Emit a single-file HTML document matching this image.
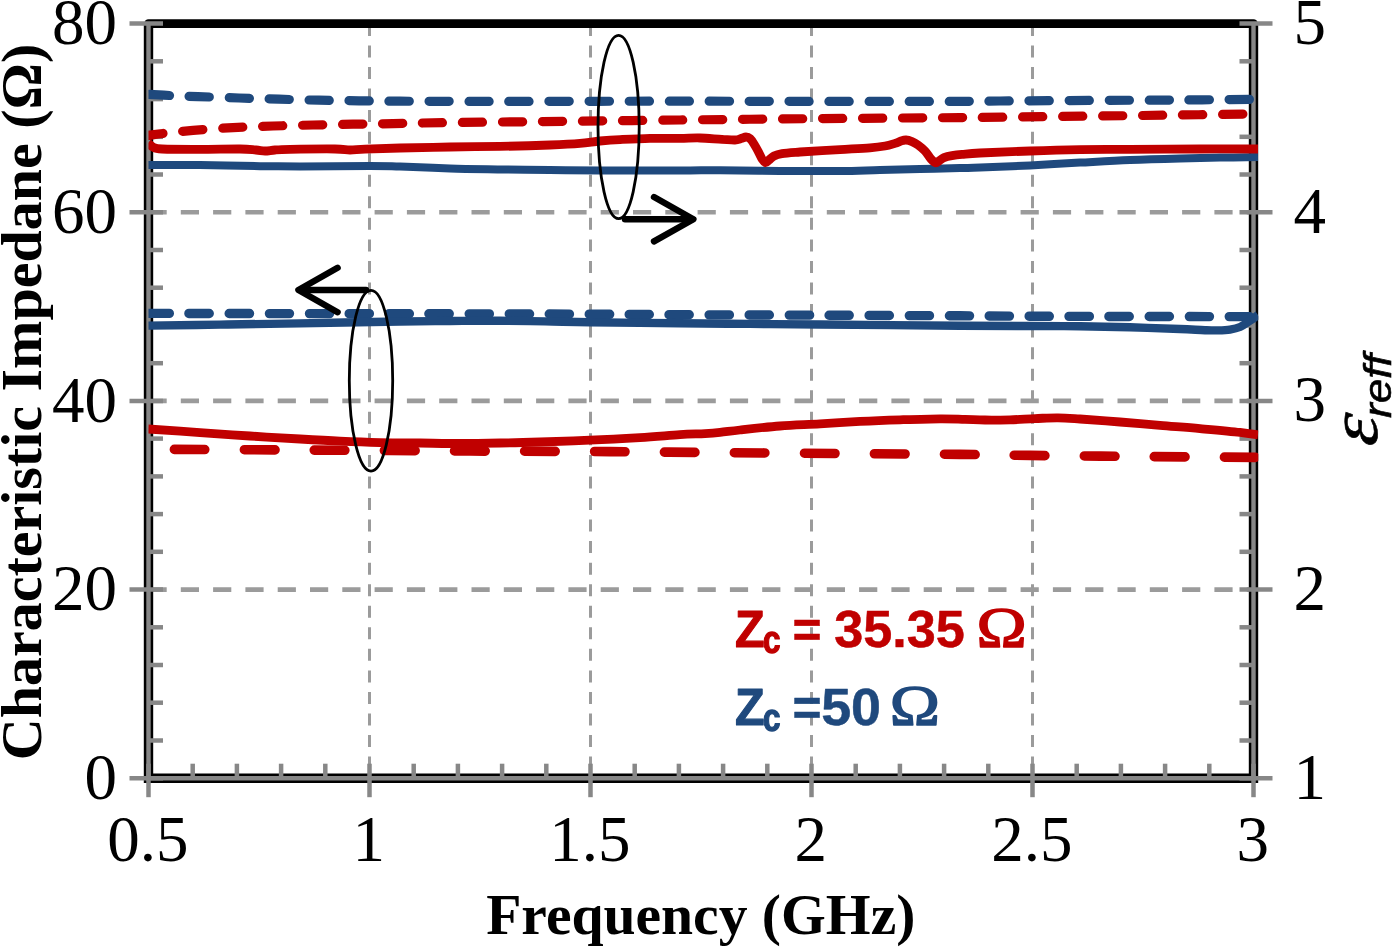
<!DOCTYPE html>
<html lang="en"><head><meta charset="utf-8"><title>Characteristic impedance chart</title>
<style>html,body{margin:0;padding:0;background:#fff;}body{width:1400px;height:948px;overflow:hidden;font-family:"Liberation Serif",serif;}svg{display:block;}</style></head>
<body>
<svg width="1400" height="948" viewBox="0 0 1400 948" style="will-change:transform">
<rect width="1400" height="948" fill="#fff"/>
<g fill="none" stroke="#9b9b9b">
<path d="M369.5 23.9 V778.2" stroke-width="3" stroke-dasharray="12 9.55"/>
<path d="M590.5 23.9 V778.2" stroke-width="3" stroke-dasharray="12 9.55"/>
<path d="M811.5 23.9 V778.2" stroke-width="3" stroke-dasharray="12 9.55"/>
<path d="M1032.5 23.9 V778.2" stroke-width="3" stroke-dasharray="12 9.55"/>
<path d="M148.5 212.3 H1253.5" stroke-width="4.6" stroke-dasharray="18.2 14.1"/>
<path d="M148.5 400.9 H1253.5" stroke-width="4.6" stroke-dasharray="18.2 14.1"/>
<path d="M148.5 589.6 H1253.5" stroke-width="4.6" stroke-dasharray="18.2 14.1"/>
</g>
<g fill="none" stroke-linecap="butt">
<path d="M148.5 23.6 H1253.5" stroke="#000" stroke-width="8.6" stroke-linecap="round"/>
<path d="M148.5 23.6 V778.2 H1253.5 V23.6" stroke="#000" stroke-width="9.4" stroke-linejoin="miter"/>
<path d="M148.5 24.6 V778.2 H1253.5 V24.6" stroke="#878787" stroke-width="4.4" stroke-linejoin="miter"/>
</g>
<g stroke="#878787" stroke-width="4.5" fill="none">
<path d="M129.5 23.6 H163.0"/>
<path d="M1239.5 23.6 H1272.5"/>
<path d="M148.5 61.3 H163.0"/>
<path d="M1239.5 61.3 H1253.5"/>
<path d="M148.5 99.1 H163.0"/>
<path d="M1239.5 99.1 H1253.5"/>
<path d="M148.5 136.8 H163.0"/>
<path d="M1239.5 136.8 H1253.5"/>
<path d="M148.5 174.5 H163.0"/>
<path d="M1239.5 174.5 H1253.5"/>
<path d="M129.5 212.3 H163.0"/>
<path d="M1239.5 212.3 H1272.5"/>
<path d="M148.5 250.0 H163.0"/>
<path d="M1239.5 250.0 H1253.5"/>
<path d="M148.5 287.7 H163.0"/>
<path d="M1239.5 287.7 H1253.5"/>
<path d="M148.5 325.4 H163.0"/>
<path d="M1239.5 325.4 H1253.5"/>
<path d="M148.5 363.2 H163.0"/>
<path d="M1239.5 363.2 H1253.5"/>
<path d="M129.5 400.9 H163.0"/>
<path d="M1239.5 400.9 H1272.5"/>
<path d="M148.5 438.6 H163.0"/>
<path d="M1239.5 438.6 H1253.5"/>
<path d="M148.5 476.4 H163.0"/>
<path d="M1239.5 476.4 H1253.5"/>
<path d="M148.5 514.1 H163.0"/>
<path d="M1239.5 514.1 H1253.5"/>
<path d="M148.5 551.8 H163.0"/>
<path d="M1239.5 551.8 H1253.5"/>
<path d="M129.5 589.6 H163.0"/>
<path d="M1239.5 589.6 H1272.5"/>
<path d="M148.5 627.3 H163.0"/>
<path d="M1239.5 627.3 H1253.5"/>
<path d="M148.5 665.0 H163.0"/>
<path d="M1239.5 665.0 H1253.5"/>
<path d="M148.5 702.7 H163.0"/>
<path d="M1239.5 702.7 H1253.5"/>
<path d="M148.5 740.5 H163.0"/>
<path d="M1239.5 740.5 H1253.5"/>
<path d="M129.5 778.2 H163.0"/>
<path d="M1239.5 778.2 H1272.5"/>
<path d="M148.5 763.7 V797.2"/>
<path d="M192.7 763.7 V778.2"/>
<path d="M236.9 763.7 V778.2"/>
<path d="M281.1 763.7 V778.2"/>
<path d="M325.3 763.7 V778.2"/>
<path d="M369.5 763.7 V797.2"/>
<path d="M413.7 763.7 V778.2"/>
<path d="M457.9 763.7 V778.2"/>
<path d="M502.1 763.7 V778.2"/>
<path d="M546.3 763.7 V778.2"/>
<path d="M590.5 763.7 V797.2"/>
<path d="M634.7 763.7 V778.2"/>
<path d="M678.9 763.7 V778.2"/>
<path d="M723.1 763.7 V778.2"/>
<path d="M767.3 763.7 V778.2"/>
<path d="M811.5 763.7 V797.2"/>
<path d="M855.7 763.7 V778.2"/>
<path d="M899.9 763.7 V778.2"/>
<path d="M944.1 763.7 V778.2"/>
<path d="M988.3 763.7 V778.2"/>
<path d="M1032.5 763.7 V797.2"/>
<path d="M1076.7 763.7 V778.2"/>
<path d="M1120.9 763.7 V778.2"/>
<path d="M1165.1 763.7 V778.2"/>
<path d="M1209.3 763.7 V778.2"/>
<path d="M1253.5 763.7 V797.2"/>
</g>
<clipPath id="pc"><rect x="148.5" y="0" width="1109.8" height="948"/></clipPath>
<g fill="none" stroke-linecap="round" stroke-linejoin="round" clip-path="url(#pc)">
<path d="M148.0 94.4 C152.0 94.6 163.7 95.2 172.0 95.6 C180.3 96.0 186.8 96.2 198.0 96.6 C209.2 97.0 225.5 97.6 239.0 98.0 C252.5 98.4 265.7 98.8 279.0 99.2 C292.3 99.6 305.7 99.9 319.0 100.2 C332.3 100.5 345.5 100.6 359.0 100.8 C372.5 101.0 376.5 101.1 400.0 101.2 C423.5 101.3 453.3 101.4 500.0 101.4 C546.7 101.4 626.7 101.2 680.0 101.2 C733.3 101.2 773.3 101.4 820.0 101.4 C866.7 101.4 930.0 101.5 960.0 101.4 C990.0 101.3 976.7 101.2 1000.0 101.0 C1023.3 100.8 1070.0 100.6 1100.0 100.4 C1130.0 100.2 1155.0 100.2 1180.0 100.0 C1205.0 99.8 1238.3 99.5 1250.0 99.4" stroke="#1f497d" stroke-width="9.2" stroke-dasharray="20.2 19.8" stroke-dashoffset="-1.2"/>
<path d="M148.0 135.5 C151.2 135.1 159.5 133.8 167.0 133.0 C174.5 132.2 182.0 131.3 193.0 130.4 C204.0 129.5 219.7 128.3 233.0 127.6 C246.3 126.9 259.7 126.4 273.0 126.0 C286.3 125.6 299.7 125.3 313.0 125.0 C326.3 124.7 339.7 124.4 353.0 124.2 C366.3 124.0 376.8 123.9 393.0 123.6 C409.2 123.3 425.5 122.9 450.0 122.6 C474.5 122.3 501.7 122.0 540.0 121.6 C578.3 121.2 633.3 120.5 680.0 120.0 C726.7 119.5 773.3 119.0 820.0 118.6 C866.7 118.2 913.3 118.0 960.0 117.6 C1006.7 117.2 1063.3 116.4 1100.0 116.0 C1136.7 115.6 1155.7 115.3 1180.0 115.0 C1204.3 114.7 1235.0 114.2 1246.0 114.0" stroke="#c00000" stroke-width="9.2" stroke-dasharray="20.2 19.8" stroke-dashoffset="5"/>
<path d="M148.0 165.0 C156.7 165.0 181.3 164.8 200.0 165.0 C218.7 165.2 243.3 166.0 260.0 166.2 C276.7 166.4 281.7 166.4 300.0 166.4 C318.3 166.4 353.3 166.0 370.0 166.0 C386.7 166.0 386.7 166.2 400.0 166.6 C413.3 167.0 433.3 167.9 450.0 168.4 C466.7 168.9 483.3 169.1 500.0 169.4 C516.7 169.7 533.3 169.8 550.0 170.0 C566.7 170.2 578.3 170.3 600.0 170.4 C621.7 170.5 660.0 170.6 680.0 170.6 C700.0 170.6 703.3 170.1 720.0 170.2 C736.7 170.3 760.0 170.9 780.0 171.0 C800.0 171.1 823.3 171.2 840.0 171.0 C856.7 170.8 866.7 170.3 880.0 170.0 C893.3 169.7 906.7 169.3 920.0 169.0 C933.3 168.7 950.0 168.2 960.0 168.0 C970.0 167.8 968.3 168.0 980.0 167.6 C991.7 167.2 1013.3 166.2 1030.0 165.4 C1046.7 164.6 1063.3 163.5 1080.0 162.6 C1096.7 161.7 1113.3 160.7 1130.0 160.0 C1146.7 159.3 1165.0 158.8 1180.0 158.4 C1195.0 158.0 1207.0 157.8 1220.0 157.6 C1233.0 157.4 1251.7 157.1 1258.0 157.0" stroke="#1f497d" stroke-width="8" stroke-linecap="butt"/>
<path d="M148.0 143.0 C148.8 143.7 150.7 146.0 153.0 147.0 C155.3 148.0 154.2 148.6 162.0 149.0 C169.8 149.4 187.0 149.4 200.0 149.4 C213.0 149.4 230.7 148.9 240.0 149.0 C249.3 149.1 251.8 149.7 256.0 150.0 C260.2 150.3 261.8 151.0 265.0 151.0 C268.2 151.0 270.8 150.3 275.0 150.0 C279.2 149.7 280.0 149.6 290.0 149.4 C300.0 149.2 325.0 148.9 335.0 149.0 C345.0 149.1 345.0 150.0 350.0 150.0 C355.0 150.0 356.7 149.5 365.0 149.2 C373.3 148.9 385.8 148.4 400.0 148.0 C414.2 147.6 433.3 147.3 450.0 147.0 C466.7 146.7 483.3 146.7 500.0 146.4 C516.7 146.1 536.7 145.5 550.0 145.0 C563.3 144.5 571.7 144.1 580.0 143.4 C588.3 142.7 593.3 141.6 600.0 141.0 C606.7 140.4 611.7 140.0 620.0 139.6 C628.3 139.2 640.0 138.6 650.0 138.4 C660.0 138.2 671.7 138.5 680.0 138.4 C688.3 138.3 693.0 137.8 700.0 138.0 C707.0 138.2 716.2 139.1 722.0 139.4 C727.8 139.7 731.8 140.1 735.0 140.0 C738.2 139.9 739.2 139.1 741.0 138.6 C742.8 138.1 744.5 137.0 746.0 137.0 C747.5 137.0 748.7 137.4 750.0 138.6 C751.3 139.8 752.7 141.9 754.0 144.0 C755.3 146.1 756.7 148.5 758.0 151.0 C759.3 153.5 760.8 157.1 762.0 159.0 C763.2 160.9 764.3 162.4 765.5 162.6 C766.7 162.8 767.6 161.1 769.0 160.0 C770.4 158.9 771.8 157.1 774.0 156.0 C776.2 154.9 777.7 154.3 782.0 153.6 C786.3 152.9 790.3 152.7 800.0 152.0 C809.7 151.3 828.3 150.3 840.0 149.6 C851.7 148.9 862.5 148.4 870.0 147.8 C877.5 147.2 880.8 146.7 885.0 146.0 C889.2 145.3 892.3 144.2 895.0 143.4 C897.7 142.6 899.2 141.6 901.0 141.0 C902.8 140.4 904.2 139.9 906.0 140.0 C907.8 140.1 910.0 140.8 912.0 141.6 C914.0 142.4 915.8 143.4 918.0 145.0 C920.2 146.6 922.8 148.7 925.0 151.0 C927.2 153.3 929.2 157.0 931.0 159.0 C932.8 161.0 934.2 162.5 935.5 162.8 C936.8 163.1 937.6 161.9 939.0 161.0 C940.4 160.1 941.8 158.5 944.0 157.6 C946.2 156.7 949.0 156.1 952.0 155.6 C955.0 155.1 957.3 154.8 962.0 154.4 C966.7 154.0 968.7 153.6 980.0 153.0 C991.3 152.4 1013.3 151.6 1030.0 151.0 C1046.7 150.4 1063.3 149.9 1080.0 149.6 C1096.7 149.3 1110.0 149.5 1130.0 149.4 C1150.0 149.3 1178.7 149.1 1200.0 149.0 C1221.3 148.9 1248.3 149.0 1258.0 149.0" stroke="#c00000" stroke-width="8.8" stroke-linecap="butt"/>
<path d="M148.0 313.4 C173.3 313.4 258.0 313.6 300.0 313.6 C342.0 313.7 351.7 313.6 400.0 313.7 C448.3 313.8 543.3 314.0 590.0 314.2 C636.7 314.4 641.7 314.5 680.0 314.7 C718.3 314.9 773.3 315.0 820.0 315.2 C866.7 315.4 916.7 315.6 960.0 315.8 C1003.3 316.0 1031.7 316.3 1080.0 316.4 C1128.3 316.5 1221.7 316.6 1250.0 316.6" stroke="#1f497d" stroke-width="9.4" stroke-dasharray="20.2 19.8" stroke-dashoffset="-1.2"/>
<path d="M148.0 325.6 C160.0 325.4 194.7 325.0 220.0 324.6 C245.3 324.2 270.0 323.9 300.0 323.4 C330.0 322.9 375.0 321.9 400.0 321.5 C425.0 321.1 433.3 321.1 450.0 321.0 C466.7 320.9 484.2 320.7 500.0 320.8 C515.8 320.9 530.0 321.1 545.0 321.4 C560.0 321.6 567.5 322.0 590.0 322.3 C612.5 322.6 653.3 323.0 680.0 323.3 C706.7 323.6 726.7 323.7 750.0 323.9 C773.3 324.1 785.0 324.2 820.0 324.5 C855.0 324.8 925.0 325.4 960.0 325.7 C995.0 325.9 1010.0 325.9 1030.0 326.0 C1050.0 326.1 1063.3 326.1 1080.0 326.3 C1096.7 326.5 1113.3 326.9 1130.0 327.3 C1146.7 327.8 1167.5 328.5 1180.0 329.0 C1192.5 329.5 1198.7 330.0 1205.0 330.2 C1211.3 330.4 1213.8 330.5 1218.0 330.4 C1222.2 330.3 1226.3 330.2 1230.0 329.6 C1233.7 329.0 1237.0 328.3 1240.0 327.0 C1243.0 325.7 1245.7 323.5 1248.0 322.0 C1250.3 320.5 1252.3 319.2 1254.0 318.0 C1255.7 316.8 1257.3 315.5 1258.0 315.0" stroke="#1f497d" stroke-width="8.4" stroke-linecap="butt"/>
<path d="M148.0 429.0 C156.7 429.6 183.0 431.4 200.0 432.6 C217.0 433.8 233.3 434.9 250.0 436.0 C266.7 437.1 285.0 438.1 300.0 439.0 C315.0 439.9 326.7 440.6 340.0 441.2 C353.3 441.8 366.7 442.3 380.0 442.6 C393.3 442.9 408.3 442.9 420.0 443.0 C431.7 443.1 436.7 443.5 450.0 443.5 C463.3 443.5 485.0 443.2 500.0 443.0 C515.0 442.8 525.0 442.5 540.0 442.0 C555.0 441.5 573.3 440.9 590.0 440.2 C606.7 439.5 625.0 438.5 640.0 437.6 C655.0 436.7 669.2 435.3 680.0 434.6 C690.8 433.9 698.3 434.0 705.0 433.6 C711.7 433.2 714.2 433.0 720.0 432.4 C725.8 431.8 730.0 431.1 740.0 430.0 C750.0 428.9 766.7 427.0 780.0 426.0 C793.3 425.0 806.7 424.6 820.0 423.8 C833.3 423.0 846.7 422.1 860.0 421.4 C873.3 420.7 886.7 420.2 900.0 419.8 C913.3 419.4 929.2 418.9 940.0 418.8 C950.8 418.7 957.5 419.2 965.0 419.4 C972.5 419.6 977.5 419.9 985.0 420.0 C992.5 420.1 1001.7 420.0 1010.0 419.8 C1018.3 419.6 1027.0 418.9 1035.0 418.6 C1043.0 418.3 1050.5 417.7 1058.0 417.8 C1065.5 417.9 1069.7 418.3 1080.0 419.0 C1090.3 419.7 1106.7 420.9 1120.0 422.0 C1133.3 423.1 1146.7 424.3 1160.0 425.4 C1173.3 426.5 1186.7 427.4 1200.0 428.6 C1213.3 429.8 1230.3 431.3 1240.0 432.4 C1249.7 433.5 1255.0 434.6 1258.0 435.0" stroke="#c00000" stroke-width="8.8" stroke-linecap="butt"/>
<path d="M174.4 449.4 C195.3 449.5 250.7 449.7 300.0 450.0 C349.3 450.3 418.3 450.7 470.0 451.0 C521.7 451.3 568.3 451.3 610.0 451.6 C651.7 451.9 680.0 452.3 720.0 452.6 C760.0 452.9 810.0 453.3 850.0 453.6 C890.0 453.9 930.0 454.1 960.0 454.4 C990.0 454.7 998.3 455.0 1030.0 455.4 C1061.7 455.8 1112.0 456.3 1150.0 456.6 C1188.0 456.9 1240.0 457.3 1258.0 457.4" stroke="#c00000" stroke-width="9.6" stroke-dasharray="30.6 39.4"/>
</g>
<g fill="none" stroke="#000">
<ellipse cx="618.6" cy="127" rx="20.6" ry="91.7" stroke-width="2.8"/>
<ellipse cx="371" cy="380.7" rx="21.7" ry="90.4" stroke-width="2.8"/>
<g stroke-width="6.4" stroke-linecap="round" stroke-linejoin="round">
<path d="M625 219.2 H692"/><path d="M654 197 L693.4 219.2 L654 241.4"/>
<path d="M366 290 H300"/><path d="M337.6 267.8 L298.4 290 L337.6 312.2"/>
</g></g>
<g font-family="'Liberation Serif', serif" fill="#000">
<g font-size="65" text-anchor="end">
<text x="117" y="44.2">80</text>
<text x="117" y="232.9">60</text>
<text x="117" y="421.5">40</text>
<text x="117" y="610.2">20</text>
<text x="117" y="798.8">0</text>
</g>
<g font-size="65" text-anchor="start">
<text x="1293.5" y="44.0">5</text>
<text x="1293.5" y="232.7">4</text>
<text x="1293.5" y="421.3">3</text>
<text x="1293.5" y="610.0">2</text>
<text x="1293.5" y="798.6">1</text>
</g>
<g font-size="65" text-anchor="middle">
<text x="147.8" y="860.5">0.5</text>
<text x="368.8" y="860.5">1</text>
<text x="589.8" y="860.5">1.5</text>
<text x="810.8" y="860.5">2</text>
<text x="1031.8" y="860.5">2.5</text>
<text x="1252.8" y="860.5">3</text>
</g>
<text x="700.8" y="934.4" font-size="57.6" font-weight="bold" text-anchor="middle">Frequency (GHz)</text>
<text transform="translate(40.6 402) rotate(-90)" font-size="58" font-weight="bold" text-anchor="middle">Characteristic Impedane (Ω)</text>
<g transform="translate(1377.4 444.6) rotate(-90)" font-style="italic">
<text transform="translate(-2.6 0) skewX(-8) scale(1.14 1)" font-size="68.5" stroke="#000" stroke-width="0.6">ε</text>
<text transform="translate(26.60 14.00) scale(1.1600 1)" font-size="38" stroke="#000" stroke-width="0.6" font-family="'Liberation Sans', sans-serif">reff</text>
</g>
</g>
<g font-family="'Liberation Sans', sans-serif" font-weight="bold" font-size="51.5">
<g fill="#c00000" stroke="#c00000" stroke-width="0" stroke-linejoin="round">
<text transform="translate(735.00 647.10) scale(0.9400 1)" stroke-width="1.1">Z</text>
<text transform="translate(762.80 652.70) scale(0.8400 1)" stroke-width="1.3" font-size="38">c</text>
<text transform="translate(792.40 647.10) scale(0.9670 1)" stroke-width="0.5">=</text>
<text transform="translate(834.20 647.10) scale(1.0140 1)" stroke-width="0.5">35.35</text>
<text transform="translate(976.60 647.10) scale(1.1850 1)" font-family="'Liberation Serif', serif" font-weight="normal" stroke-width="1.5" font-size="57">Ω</text>
</g>
<g fill="#1f497d" stroke="#1f497d" stroke-width="0" stroke-linejoin="round">
<text transform="translate(735.00 725.30) scale(0.9400 1)" stroke-width="1.1">Z</text>
<text transform="translate(762.80 730.90) scale(0.8400 1)" stroke-width="1.3" font-size="38">c</text>
<text transform="translate(792.40 725.30) scale(0.9670 1)" stroke-width="0.5">=</text>
<text transform="translate(821.20 725.30) scale(1.0450 1)" stroke-width="0.5">50</text>
<text transform="translate(889.80 725.30) scale(1.1850 1)" font-family="'Liberation Serif', serif" font-weight="normal" stroke-width="1.5" font-size="57">Ω</text>
</g>
</g>
</svg>
</body></html>
